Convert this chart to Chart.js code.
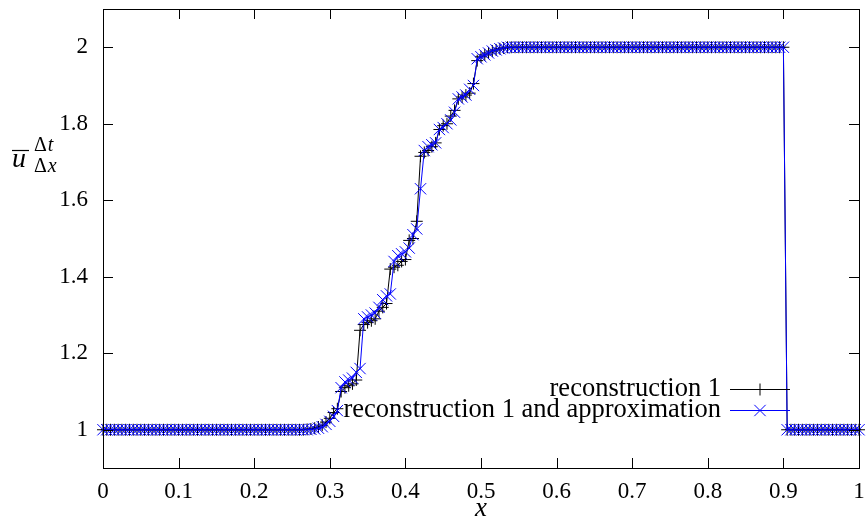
<!DOCTYPE html>
<html>
<head>
<meta charset="utf-8">
<script src="https://cdn.jsdelivr.net/npm/chart.js@4.4.1/dist/chart.umd.min.js"></script>
<style>
  html, body { margin: 0; padding: 0; background: #fff; }
</style>
</head>
<body>
<canvas id="c" width="868" height="525"></canvas>
<script>
// cell spacing of the x grid (201 points from 0 to 1)
const cellWidth = 0.005;

// reconstruction 1 (black +)
const recon = [
  1, 1, 1, 1, 1, 1, 1, 1, 1, 1,
  1, 1, 1, 1, 1, 1, 1, 1, 1, 1,
  1, 1, 1, 1, 1, 1, 1, 1, 1, 1,
  1, 1, 1, 1, 1, 1, 1, 1, 1, 1,
  1, 1, 1, 1, 1, 1, 1, 1, 1, 1,
  1, 1, 1, 1,
  1.001, 1.002, 1.004, 1.007, 1.012, 1.02, 1.03, 1.045, 1.055, 1.10,
  1.11, 1.115, 1.12, 1.13, 1.26, 1.275, 1.28, 1.285, 1.29, 1.31,
  1.32, 1.33, 1.42, 1.425, 1.43, 1.44, 1.445, 1.495, 1.50, 1.545,
  1.715, 1.725, 1.73, 1.74, 1.75, 1.785, 1.795, 1.80, 1.82, 1.835,
  1.865, 1.87, 1.875, 1.88, 1.905, 1.965, 1.975, 1.98, 1.985, 1.99,
  1.993, 1.996, 1.998,
  2, 2, 2, 2, 2, 2, 2, 2, 2, 2,
  2, 2, 2, 2, 2, 2, 2, 2, 2, 2,
  2, 2, 2, 2, 2, 2, 2, 2, 2, 2,
  2, 2, 2, 2, 2, 2, 2, 2, 2, 2,
  2, 2, 2, 2, 2, 2, 2, 2, 2, 2,
  2, 2, 2, 2, 2, 2, 2, 2, 2, 2,
  2, 2, 2, 2, 2, 2, 2, 2, 2, 2,
  2, 2, 2, 2,
  1, 1, 1, 1, 1, 1, 1, 1, 1, 1,
  1, 1, 1, 1, 1, 1, 1, 1, 1, 1
];

// reconstruction 1 and approximation (blue x)
const reconApprox = [
  1, 1, 1, 1, 1, 1, 1, 1, 1, 1,
  1, 1, 1, 1, 1, 1, 1, 1, 1, 1,
  1, 1, 1, 1, 1, 1, 1, 1, 1, 1,
  1, 1, 1, 1, 1, 1, 1, 1, 1, 1,
  1, 1, 1, 1, 1, 1, 1, 1, 1, 1,
  1, 1, 1, 1,
  1.0, 1.001, 1.002, 1.004, 1.008, 1.014, 1.022, 1.035, 1.05, 1.11,
  1.125, 1.13, 1.135, 1.15, 1.16, 1.29, 1.295, 1.30, 1.305, 1.32,
  1.34, 1.35, 1.355, 1.44, 1.455, 1.46, 1.465, 1.475, 1.51, 1.525,
  1.63, 1.73, 1.74, 1.745, 1.75, 1.785, 1.79, 1.80, 1.81, 1.83,
  1.865, 1.87, 1.875, 1.89, 1.90, 1.97, 1.975, 1.98, 1.985, 1.99,
  1.993, 1.996, 1.998,
  2, 2, 2, 2, 2, 2, 2, 2, 2, 2,
  2, 2, 2, 2, 2, 2, 2, 2, 2, 2,
  2, 2, 2, 2, 2, 2, 2, 2, 2, 2,
  2, 2, 2, 2, 2, 2, 2, 2, 2, 2,
  2, 2, 2, 2, 2, 2, 2, 2, 2, 2,
  2, 2, 2, 2, 2, 2, 2, 2, 2, 2,
  2, 2, 2, 2, 2, 2, 2, 2, 2, 2,
  2, 2, 2, 2,
  1, 1, 1, 1, 1, 1, 1, 1, 1, 1,
  1, 1, 1, 1, 1, 1, 1, 1, 1, 1
];

// ticks
const xTicks = [0, 0.1, 0.2, 0.3, 0.4, 0.5, 0.6, 0.7, 0.8, 0.9, 1];
const xTickLabels = ['0', '0.1', '0.2', '0.3', '0.4', '0.5', '0.6', '0.7', '0.8', '0.9', '1'];
const yTicks = [1, 1.2, 1.4, 1.6, 1.8, 2];
const yTickLabels = ['1', '1.2', '1.4', '1.6', '1.8', '2'];

const seriesNames = ['reconstruction 1', 'reconstruction 1 and approximation'];

const serif = "'Liberation Serif', 'DejaVu Serif', serif";

function toPoints(values) {
  return values.map((v, i) => ({ x: i * cellWidth, y: v }));
}

// gnuplot style frame, inward ticks, y label and key
const gnuplotDecor = {
  id: 'gnuplotDecor',
  afterDatasetsDraw(chart) {
    const ctx = chart.ctx;
    const a = chart.chartArea;
    const xs = chart.scales.x, ys = chart.scales.y;
    const tl = 10;
    ctx.save();

    // ticks on all four sides
    ctx.strokeStyle = '#000';
    ctx.lineWidth = 1;
    ctx.beginPath();
    xTicks.forEach(v => {
      const px = Math.round(xs.getPixelForValue(v)) + 0.5;
      ctx.moveTo(px, a.bottom); ctx.lineTo(px, a.bottom - tl);
      ctx.moveTo(px, a.top); ctx.lineTo(px, a.top + tl);
    });
    yTicks.forEach(v => {
      const py = Math.round(ys.getPixelForValue(v)) + 0.5;
      ctx.moveTo(a.left, py); ctx.lineTo(a.left + tl, py);
      ctx.moveTo(a.right, py); ctx.lineTo(a.right - tl, py);
    });
    ctx.stroke();

    // frame
    ctx.strokeRect(Math.round(a.left) + 0.5, Math.round(a.top) + 0.5,
                   Math.round(a.right - a.left), Math.round(a.bottom - a.top));

    // key
    const sets = chart.data.datasets;
    const keyRows = [389, 410];
    const textRight = 721, lineL = 730, lineR = 790;
    ctx.font = '26.5px ' + serif;
    ctx.textAlign = 'right';
    ctx.textBaseline = 'middle';
    sets.forEach((ds, i) => {
      const y = keyRows[i];
      ctx.fillStyle = '#000';
      ctx.fillText(seriesNames[i], textRight, y);
      ctx.strokeStyle = ds.borderColor;
      ctx.lineWidth = 1;
      ctx.beginPath();
      ctx.moveTo(lineL, y + 0.5); ctx.lineTo(lineR, y + 0.5);
      ctx.stroke();
      Chart.helpers.drawPoint(ctx, {
        pointStyle: ds.pointStyle, radius: ds.pointRadius, rotation: 0, borderWidth: 1
      }, (lineL + lineR) / 2, y + 0.5);
    });

    // y axis label: overline u, superscript Δt, subscript Δx
    ctx.fillStyle = '#000';
    ctx.textAlign = 'left';
    ctx.textBaseline = 'alphabetic';
    ctx.font = 'italic 28px ' + serif;
    ctx.fillText('u', 12, 167);
    ctx.strokeStyle = '#000';
    ctx.lineWidth = 1.2;
    ctx.beginPath();
    ctx.moveTo(12, 150.5); ctx.lineTo(29, 150.5);
    ctx.stroke();
    ctx.font = '20px ' + serif;
    ctx.fillText('Δ', 34, 151);
    ctx.fillText('Δ', 34, 172);
    const dw = ctx.measureText('Δ').width;
    ctx.font = 'italic 20px ' + serif;
    ctx.fillText('t', 34 + dw + 1, 151);
    ctx.fillText('x', 34 + dw + 1, 172);

    ctx.restore();
  }
};

const chart = new Chart(document.getElementById('c'), {
  type: 'line',
  data: {
    datasets: [
      {
        label: seriesNames[0],
        data: toPoints(recon),
        borderColor: '#000000',
        borderWidth: 1,
        pointStyle: 'cross',
        pointRadius: 6,
        pointBorderColor: '#000000',
        pointBorderWidth: 1,
        order: 1
      },
      {
        label: seriesNames[1],
        data: toPoints(reconApprox),
        borderColor: '#0000ff',
        borderWidth: 1,
        pointStyle: 'crossRot',
        pointRadius: 8,
        pointBorderColor: '#0000ff',
        pointBorderWidth: 1,
        order: 0
      }
    ]
  },
  options: {
    responsive: false,
    animation: false,
    clip: false,
    elements: { line: { tension: 0 } },
    layout: { padding: { top: 8, right: 4, left: 0, bottom: 0 } },
    plugins: { legend: { display: false }, tooltip: { enabled: false } },
    scales: {
      x: {
        type: 'linear',
        min: 0,
        max: 1,
        grid: { display: false, drawTicks: false },
        border: { display: false },
        afterBuildTicks: s => { s.ticks = xTicks.map(v => ({ value: v })); },
        afterFit: s => { s.height = 57; s.paddingLeft = 0; s.paddingRight = 0; },
        ticks: {
          color: '#000',
          padding: 10,
          maxRotation: 0,
          autoSkip: false,
          font: { family: serif, size: 23 },
          callback: (v, i) => xTickLabels[i]
        },
        title: {
          display: true,
          text: 'x',
          color: '#000',
          font: { family: serif, size: 27, style: 'italic' },
          padding: { top: 0, bottom: 0 }
        }
      },
      y: {
        type: 'linear',
        min: 0.9,
        max: 2.1,
        grid: { display: false, drawTicks: false },
        border: { display: false },
        afterBuildTicks: s => { s.ticks = yTicks.map(v => ({ value: v })); },
        afterFit: s => { s.width = 103; s.paddingTop = 0; s.paddingBottom = 0; },
        ticks: {
          color: '#000',
          padding: 15,
          autoSkip: false,
          font: { family: serif, size: 23 },
          callback: (v, i) => yTickLabels[i]
        }
      }
    }
  },
  plugins: [gnuplotDecor]
});
</script>
</body>
</html>
